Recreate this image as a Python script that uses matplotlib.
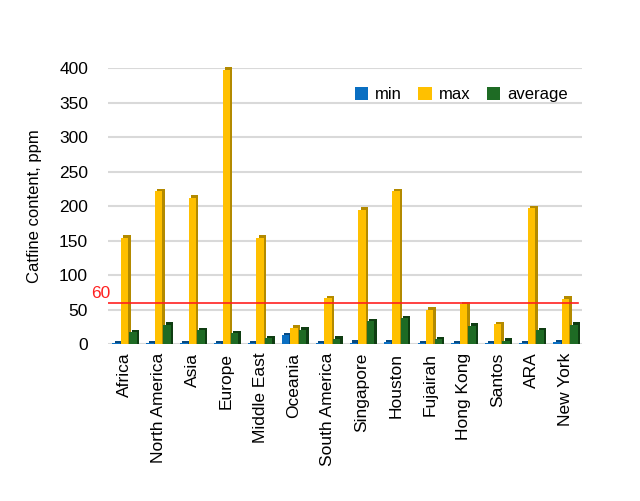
import numpy as np
import matplotlib.pyplot as plt

plt.rcParams['font.family'] = ['Liberation Sans', 'DejaVu Sans']

regions = ['Africa', 'North America', 'Asia', 'Europe', 'Middle East', 'Oceania',
           'South America', 'Singapore', 'Houston', 'Fujairah', 'Hong Kong',
           'Santos', 'ARA', 'New York']
v_min = [1, 1, 1, 1, 1, 13, 1, 2, 3, 1, 1, 1, 1, 3]
v_max = [154, 222, 212, 398, 154, 24, 67, 195, 222, 50, 58, 29, 197, 66]
v_avg = [17, 28, 20, 16, 9, 21, 8, 33, 38, 7, 27, 5, 20, 28]
limit = 60

fig = plt.figure(figsize=(6.4, 5.01), dpi=100)
ax = fig.add_axes([0.168, 0.313, 0.742, 0.551])

x = np.arange(len(regions))
w = 0.22
dx, dy = 0.07, 3.5
series = [(v_min, -0.25, '#0a6fc2', '#074a82', 'min'),
          (v_max, 0.0, '#ffc000', '#b38a00', 'max'),
          (v_avg, 0.25, '#1e6b24', '#0f3d12', 'average')]

for vals, off, c, dark, lab in series:
    ax.bar(x + off + dx, np.array(vals) + dy, width=w, color=dark, zorder=2, clip_on=False)
    ax.bar(x + off, vals, width=w, color=c, zorder=3, label=lab, clip_on=False)

ax.axhline(limit, color='#ff2020', lw=1.2, zorder=4, xmin=-0.005, xmax=0.99)
ax.text(-0.42, limit + 2, '60', color='#ff2020', fontsize=12.5, ha='right', va='bottom')

ax.set_xlim(-0.5, 13.5)
ax.set_ylim(0, 400)
ax.set_yticks(range(0, 401, 50))
ax.grid(axis='y', color='#d9d9d9', lw=1.5, zorder=0)
ax.set_xticks(x)
ax.set_xticklabels(regions, rotation=90, fontsize=12.5)
ax.tick_params(axis='y', labelsize=12.5, length=0, pad=14)
ax.tick_params(axis='x', length=0, pad=6)
for s in ax.spines.values():
    s.set_visible(False)
ax.set_ylabel('Catfine content, ppm', fontsize=12, labelpad=12)

ax.legend(loc='upper right', bbox_to_anchor=(1.0, 0.985), ncol=3, frameon=False,
          fontsize=12, handlelength=0.8, handleheight=0.8, handletextpad=0.4,
          columnspacing=1.0)

fig.savefig('out.png', dpi=100)
